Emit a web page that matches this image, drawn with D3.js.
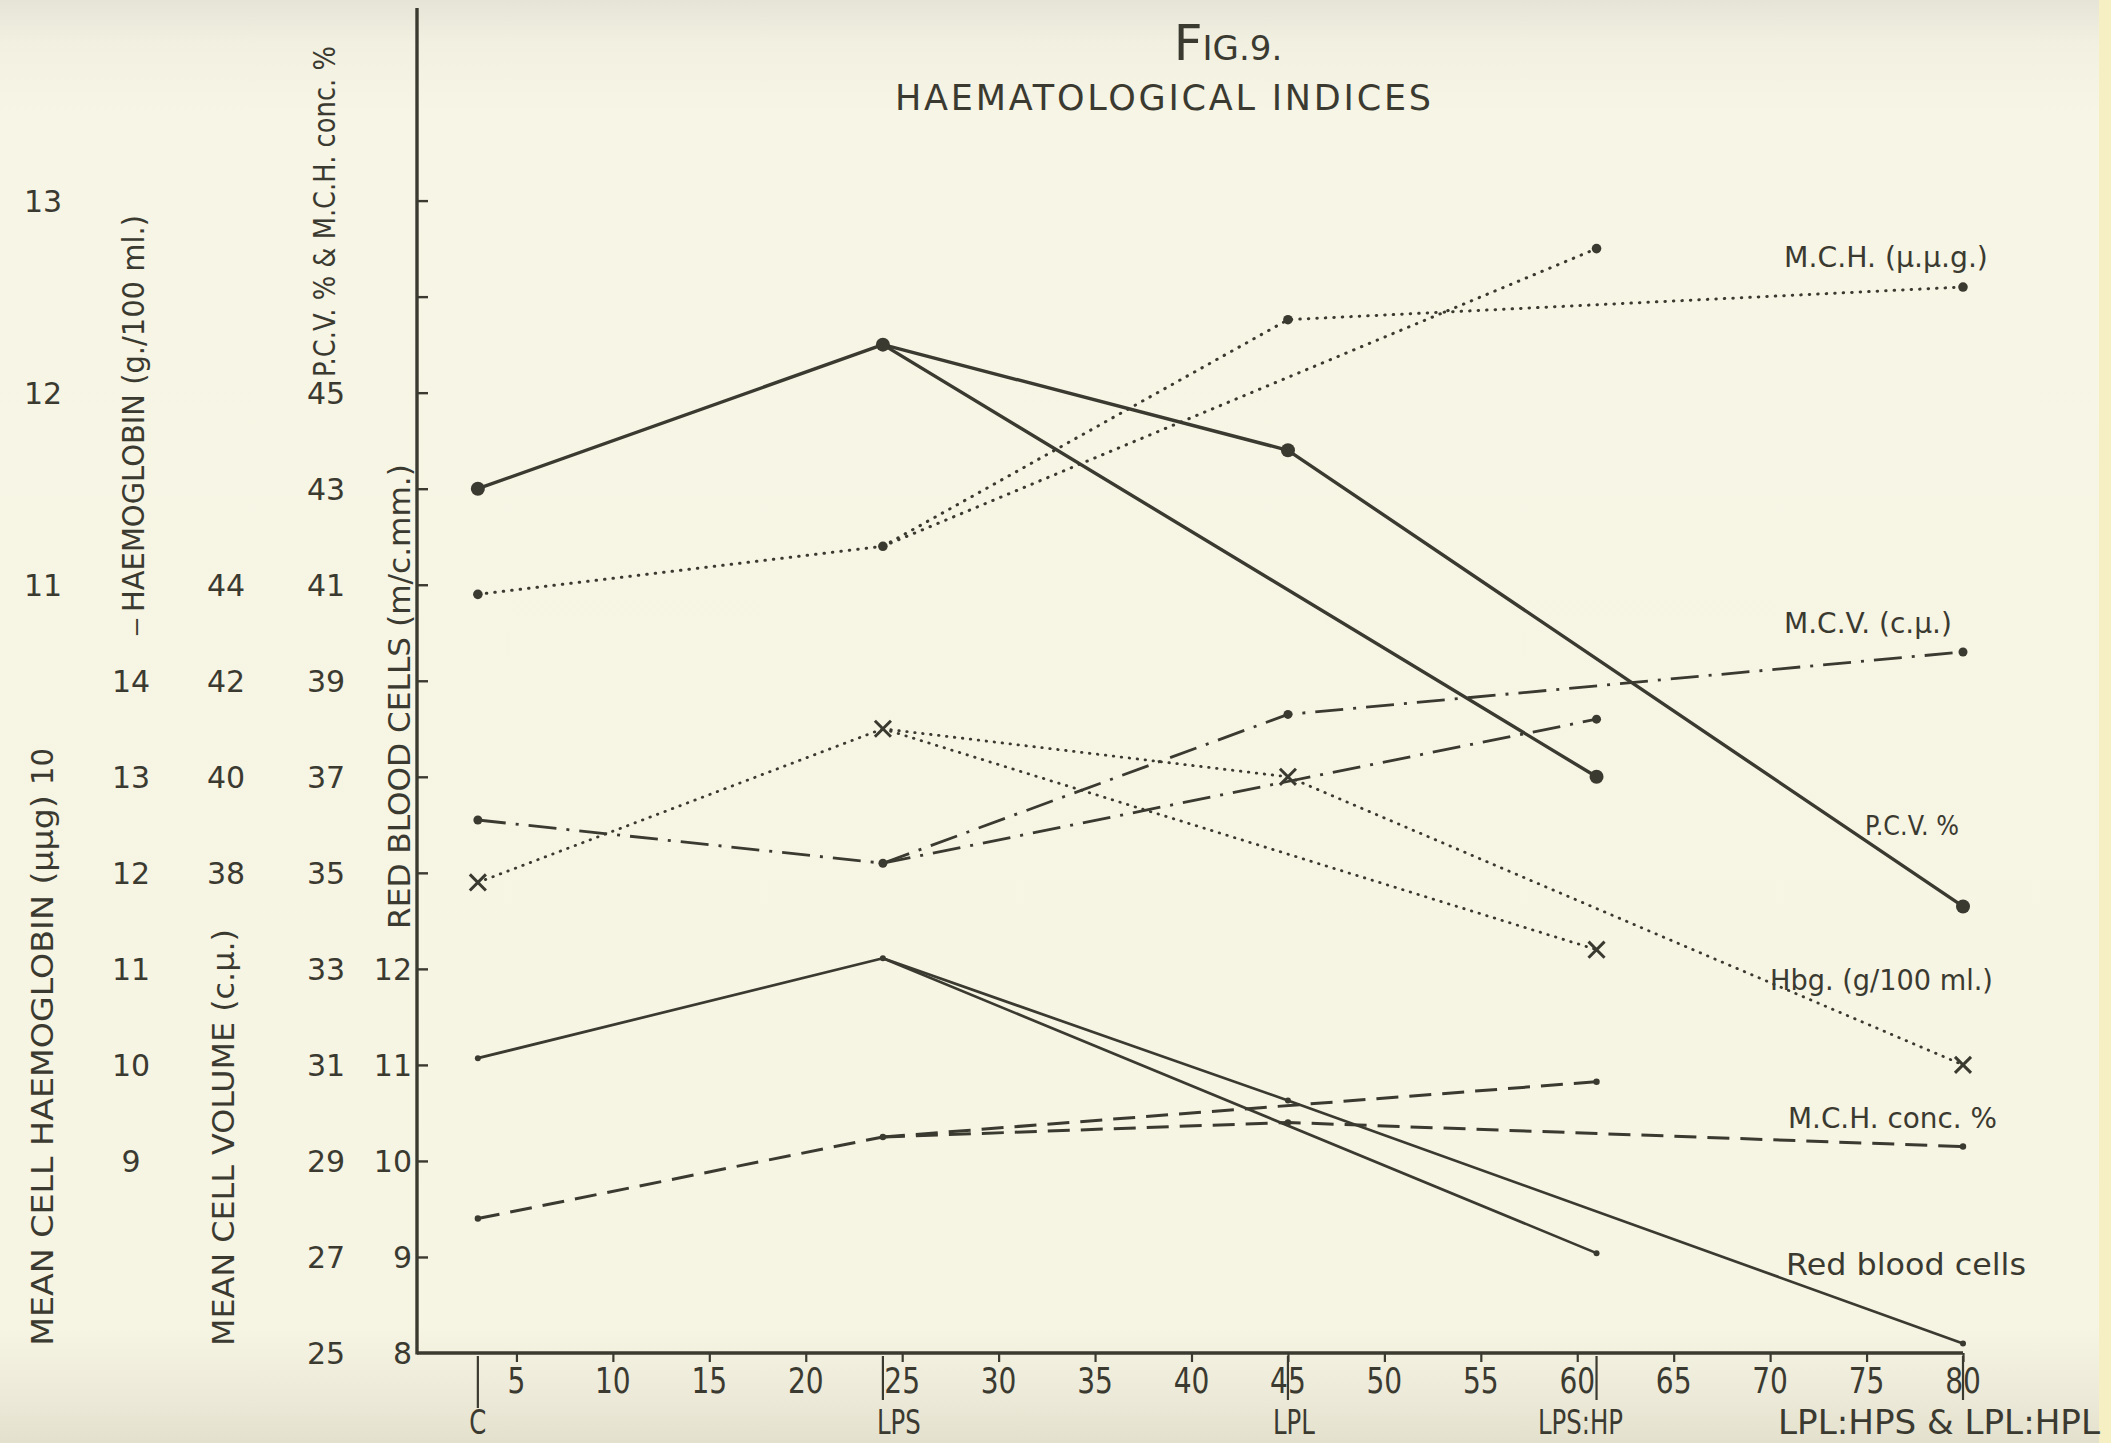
<!DOCTYPE html>
<html>
<head>
<meta charset="utf-8">
<script src="https://cdn.jsdelivr.net/npm/d3@7"></script>
<style>
html,body{margin:0;padding:0;background:#f6f4e2;}
svg{display:block;}
text{fill:#3b3a31;font-family:"DejaVu Sans",sans-serif;}
</style>
</head>
<body>
<svg id="chart" width="2111" height="1443"></svg>
<script>
// ---------- data ----------
const categories = ["C", "LPS", "LPL", "LPS:HP", "LPL:HPS & LPL:HPL"];
const weeks = [3, 24, 45, 61, 80];
const xTicks = [5,10,15,20,25,30,35,40,45,50,55,60,65,70,75,80];

// values per category (C, LPS, LPL, LPS:HP, LPL:HPS & LPL:HPL)
const pcv  = [43.0, 46.0, 43.8, 37.0, 34.3];     // P.C.V. %
const mch  = [10.95, 11.2, 12.38, 12.75, 12.55]; // M.C.H. (µµg)
const mcv  = [39.1, 38.2, 41.3, 41.2, 42.6];     // M.C.V. (cµ)
const hbg  = [11.9, 13.5, 13.0, 11.2, 10.0];     // Hbg (g/100 ml)
const rbc  = [11.07, 12.11, 10.63, 9.04, 8.10];  // Red blood cells (m/c.mm)
const mchc = [27.8, 29.5, 29.8, 30.65, 29.3];    // M.C.H. conc. %

// diet sequences: C -> LPS, then LPS -> LPS:HP and LPS -> LPL -> LPL:HPS & LPL:HPL
const trunk = [0, 1];
const branchA = [1, 3];
const branchB = [1, 2, 4];

// tick labels for each printed scale
const mchTickLabels = [11, 12, 13];
const hbgTickLabels = [9, 10, 11, 12, 13, 14];
const mcvTickLabels = [38, 40, 42, 44];
const pcvTickLabels = [25, 27, 29, 31, 33, 35, 37, 39, 41, 43, 45];
const rbcTickLabels = [8, 9, 10, 11, 12];
const axisTickValues = [27, 29, 31, 33, 35, 37, 39, 41, 43, 45, 47, 49];

// ---------- layout ----------
const svg = d3.select("#chart");
const INK = "#3b3a31";
const yBottom = 1353, yTop = 200.6;
const axisX = 417;

const x = d3.scaleLinear([0, 80], [420, 1963]);
const pcvY = d3.scaleLinear([25, 49], [yBottom, yTop]);
const mchY = d3.scaleLinear([7, 13], [yBottom, yTop]);
const mcvY = d3.scaleLinear([28, 52], [yBottom, yTop]);
const hbgY = d3.scaleLinear([7, 19], [yBottom, yTop]);
const rbcY = d3.scaleLinear([8, 20], [yBottom, yTop]);

// ---------- paper ----------
const defs = svg.append("defs");
const g1 = defs.append("linearGradient").attr("id","paperV").attr("x1",0).attr("y1",0).attr("x2",0).attr("y2",1);
[["0%","#e6e4d6"],["3%","#f2f0e1"],["8%","#f7f5e5"],["92%","#f6f4e2"],["97%","#ece9d8"],["100%","#e3e0cd"]]
  .forEach(([o,c]) => g1.append("stop").attr("offset",o).attr("stop-color",c));
svg.append("rect").attr("width",2111).attr("height",1443).attr("fill","url(#paperV)");
svg.append("rect").attr("x",2099).attr("width",12).attr("height",1443).attr("fill","#f6efc4");

// ---------- axes ----------
const xAxis = d3.axisBottom(x).tickValues(xTicks).tickSize(9).tickFormat("");
const gx = svg.append("g").attr("transform", `translate(0,${yBottom})`).call(xAxis);
gx.select(".domain").remove();
gx.selectAll(".tick line").attr("stroke", INK).attr("stroke-width", 2.2);
svg.append("line").attr("x1", axisX).attr("x2", x(80)).attr("y1", yBottom).attr("y2", yBottom)
  .attr("stroke", INK).attr("stroke-width", 3.4);

// x tick labels (condensed lettering)
svg.append("g").selectAll("text").data(xTicks).join("text")
  .attr("transform", d => `translate(${x(d)},1393) scale(0.78,1)`)
  .attr("text-anchor", "middle").attr("font-size", 36).text(d => d);

// category markers and labels
const catDx = [0, 16, 6, -16, -24];
const catLen = [null, null, null, null, 322];
svg.append("g").selectAll("line").data(weeks).join("line")
  .attr("x1", d => x(d)).attr("x2", d => x(d))
  .attr("y1", yBottom + 3).attr("y2", (d,i) => i === 0 ? 1408 : 1400)
  .attr("stroke", INK).attr("stroke-width", 2.2);
svg.append("g").selectAll("text").data(categories).join("text")
  .attr("text-anchor", "middle").attr("font-size", 33)
  .text(d => d)
  .attr("transform", function(d, i) {
    const nat = this.getComputedTextLength();
    const k = catLen[i] ? catLen[i] / nat : 0.74;
    return `translate(${x(weeks[i]) + catDx[i]},1434) scale(${k},1)`;
  });

// y axis
const yAxis = d3.axisRight(pcvY).tickValues(axisTickValues).tickSize(11).tickFormat("");
const gy = svg.append("g").attr("transform", `translate(${axisX},0)`).call(yAxis);
gy.select(".domain").remove();
gy.selectAll(".tick line").attr("stroke", INK).attr("stroke-width", 2.4);
svg.append("line").attr("x1", axisX).attr("x2", axisX).attr("y1", 8).attr("y2", yBottom + 1.5)
  .attr("stroke", INK).attr("stroke-width", 3.4);

// y tick label columns
function column(vals, scale, xPos, anchor) {
  svg.append("g").selectAll("text").data(vals).join("text")
    .attr("x", xPos).attr("y", d => scale(d) + 11)
    .attr("text-anchor", anchor).attr("font-size", 30).text(d => d);
}
column(mchTickLabels, mchY, 43, "middle");
column(hbgTickLabels, hbgY, 131, "middle");
column(mcvTickLabels, mcvY, 226, "middle");
column(pcvTickLabels, pcvY, 326, "middle");
column(rbcTickLabels, rbcY, 412, "end");

// rotated axis titles, scaled to the span they occupy in the figure
function vtitle(txt, cx, y1, y2, size) {
  const el = svg.append("text")
    .attr("text-anchor", "middle").attr("font-size", size).text(txt);
  const nat = el.node().getComputedTextLength();
  const k = (y1 - y2) / nat;
  el.attr("transform", `translate(${cx},${(y1 + y2) / 2}) rotate(-90) scale(${k},1)`);
}
vtitle("MEAN CELL HAEMOGLOBIN (μμg)", 53, 1346, 795, 31);
vtitle("10", 53, 785, 748, 31);
vtitle("HAEMOGLOBIN (g./100 ml.)", 144, 612, 215, 31);
vtitle("—", 144, 636, 618, 26);
vtitle("MEAN CELL VOLUME (c.μ.)", 234, 1346, 929, 31);
vtitle("P.C.V. % & M.C.H. conc. %", 335, 377, 46, 30);
vtitle("RED BLOOD CELLS (m/c.mm.)", 410, 929, 464, 30);

// ---------- title ----------
const t = svg.append("text").attr("x", 1228).attr("y", 60).attr("text-anchor", "middle");
t.append("tspan").attr("font-size", 50).text("F");
t.append("tspan").attr("font-size", 34).text("IG.9.");
svg.append("text").attr("x", 1163).attr("y", 110).attr("text-anchor", "middle")
  .attr("font-size", 35).attr("textLength", 536).attr("lengthAdjust", "spacing")
  .text("HAEMATOLOGICAL  INDICES");

// ---------- series ----------
const seriesDefs = [
  {vals: pcv,  scale: pcvY, width: 3.4, dash: null,          cap: "round", marker: "dot", r: 7},
  {vals: rbc,  scale: rbcY, width: 2.7, dash: null,          cap: "round", marker: "dot", r: 3},
  {vals: mch,  scale: mchY, width: 3.0, dash: "0.5,8",       cap: "round", marker: "dot", r: 4.8},
  {vals: mcv,  scale: mcvY, width: 2.8, dash: "28,10,3,10",  cap: "butt",  marker: "dot", r: 4.5},
  {vals: hbg,  scale: hbgY, width: 2.8, dash: "0.5,7.5",     cap: "round", marker: "x",   r: 0},
  {vals: mchc, scale: pcvY, width: 3.0, dash: "22,11",       cap: "butt",  marker: "dot", r: 3.2}
];

seriesDefs.forEach(s => {
  const line = d3.line().x(i => x(weeks[i])).y(i => s.scale(s.vals[i]));
  const g = svg.append("g");
  [trunk, branchA, branchB].forEach(seg => {
    g.append("path").attr("d", line(seg))
      .attr("fill", "none").attr("stroke", INK)
      .attr("stroke-width", s.width).attr("stroke-linecap", s.cap).attr("stroke-linejoin", "round")
      .attr("stroke-dasharray", s.dash);
  });
  const idx = d3.range(s.vals.length);
  if (s.marker === "dot") {
    g.selectAll("circle").data(idx).join("circle")
      .attr("cx", i => x(weeks[i])).attr("cy", i => s.scale(s.vals[i]))
      .attr("r", s.r).attr("fill", INK);
  } else {
    const sym = d3.symbol(d3.symbolX, 170);
    g.selectAll("path.mk").data(idx).join("path").attr("class", "mk")
      .attr("transform", i => `translate(${x(weeks[i])},${s.scale(s.vals[i])})`)
      .attr("d", sym).attr("fill", "none").attr("stroke", INK).attr("stroke-width", 3);
  }
});

// ---------- series labels ----------
const seriesLabels = ["M.C.H. (μ.μ.g.)", "M.C.V. (c.μ.)", "P.C.V. %", "Hbg. (g/100 ml.)", "M.C.H. conc. %", "Red blood cells"];
const labelPos = [
  {x: 1784, y: 267, len: 204, fs: 29},
  {x: 1784, y: 633, len: 168, fs: 29},
  {x: 1865, y: 835, len: 94,  fs: 27},
  {x: 1770, y: 990, len: 223, fs: 29},
  {x: 1788, y: 1128, len: 209, fs: 29},
  {x: 1786, y: 1275, len: 240, fs: 30}
];
svg.append("g").selectAll("text").data(seriesLabels).join("text")
  .attr("font-size", (d,i) => labelPos[i].fs)
  .text(d => d)
  .attr("transform", function(d, i) {
    const k = labelPos[i].len / this.getComputedTextLength();
    return `translate(${labelPos[i].x},${labelPos[i].y}) scale(${k},1)`;
  });
</script>
</body>
</html>
